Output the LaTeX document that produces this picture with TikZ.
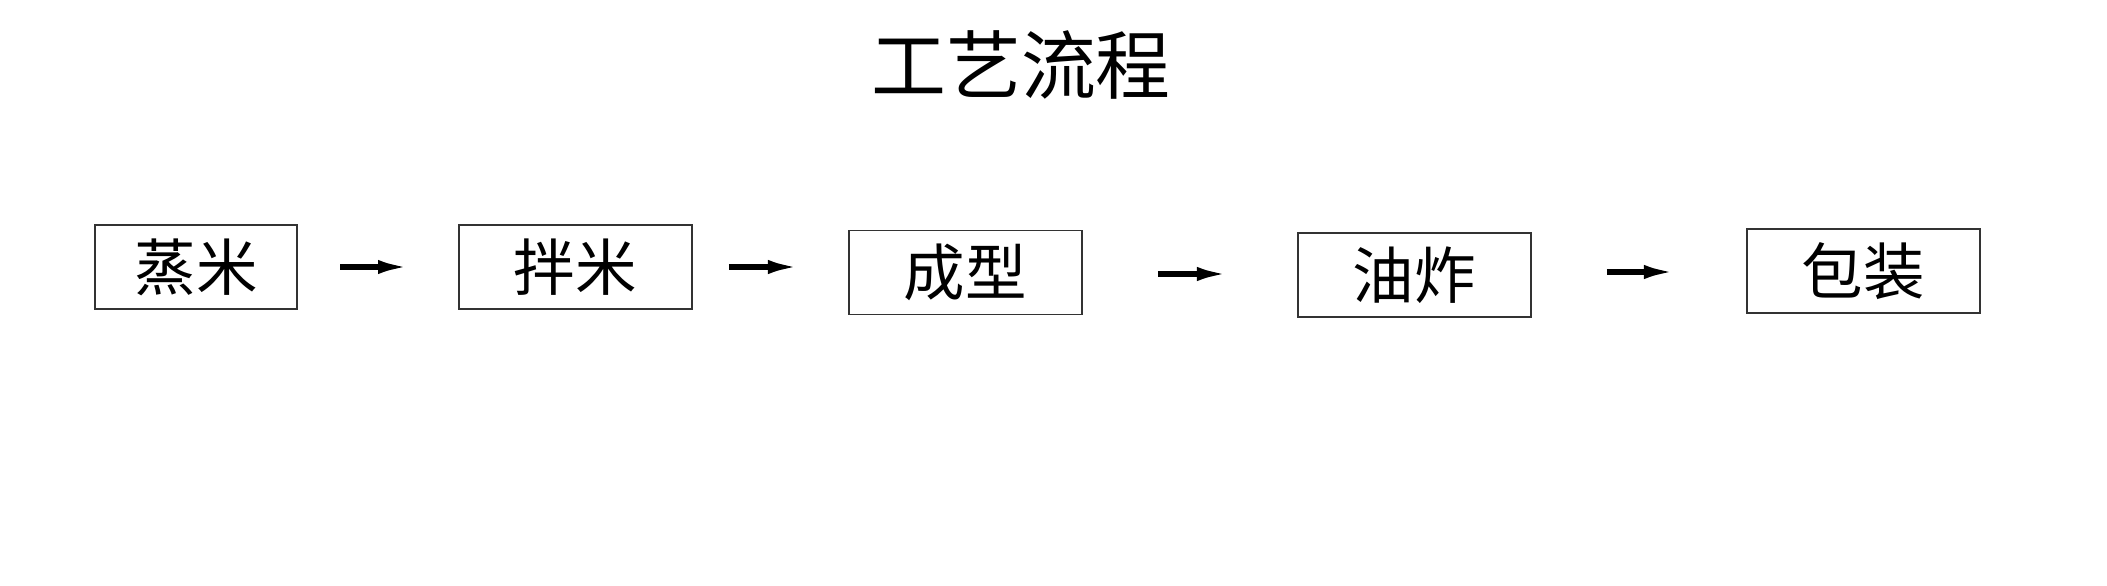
\documentclass[tikz,border=0pt]{standalone}
\usepackage{fontspec}
\usepackage{tikz}
\usetikzlibrary{arrows.meta, positioning}
\newfontfamily\cjk{Noto Sans CJK SC}

\begin{document}
\begin{tikzpicture}[
    x=0.1mm, y=-0.1mm,
    stepbox/.style={draw=black!80, line width=0.3pt, minimum width=23.3mm, minimum height=8.4mm,
                    inner sep=0pt, outer sep=0pt, font=\cjk\fontsize{17.5pt}{20pt}\selectfont},
    flow/.style={-{Latex[length=3.2mm, width=1.4mm]}, line width=0.55mm},
]
    \useasboundingbox (0,0) rectangle (2107,586);
    \node[font=\cjk\fontsize{21.3pt}{24pt}\selectfont] (title) at (1021,65) {工艺流程};
    \node[stepbox, minimum width=20.2mm] (steam) at (196,267) {蒸米};
    \node[stepbox, right=16.2mm of steam] (mix) {拌米};
    \node[stepbox, right=15.7mm of mix, yshift=-0.55mm] (shape) {成型};
    \node[stepbox, right=21.6mm of shape, yshift=-0.25mm] (fry) {油炸};
    \node[stepbox, right=21.6mm of fry, yshift=0.4mm] (pack) {包装};
    \draw[flow, shorten <=4.3mm, shorten >=4.9mm] (steam.east) -- (steam.east -| mix.west);
    \draw[flow, shorten <=3.7mm, shorten >=4.9mm] (mix.east) -- (mix.east -| shape.west);
    \draw[flow, shorten <=7.6mm, shorten >=6.9mm] ([yshift=-0.15mm]shape.east) -- ([yshift=-0.15mm]shape.east -| fry.west);
    \draw[flow, shorten <=7.6mm, shorten >=7.1mm] ([yshift=0.3mm]fry.east) -- ([yshift=0.3mm]fry.east -| pack.west);
\end{tikzpicture}
\end{document}
